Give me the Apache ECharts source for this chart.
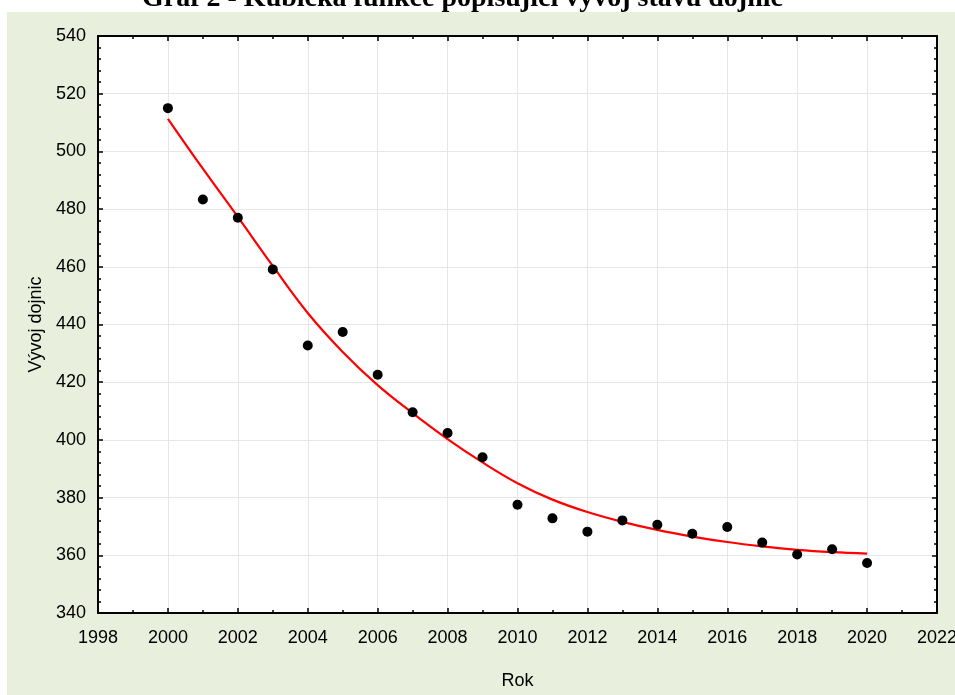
<!DOCTYPE html>
<html>
<head>
<meta charset="utf-8">
<script src="https://cdn.jsdelivr.net/npm/echarts@6/dist/echarts.min.js"></script>
<style>
  html, body { margin: 0; padding: 0; background: #fff; }
  #chart { width: 955px; height: 695px; }
</style>
</head>
<body>
<div id="chart"></div>
<script>
  // roky a hodnoty
  const years = [2000, 2001, 2002, 2003, 2004, 2005, 2006, 2007, 2008, 2009, 2010,
                 2011, 2012, 2013, 2014, 2015, 2016, 2017, 2018, 2019, 2020];
  const cows = [515.0, 483.3, 477.0, 459.1, 432.7, 437.4, 422.6, 409.6, 402.4, 394.0, 377.5,
                372.8, 368.2, 372.1, 370.6, 367.5, 369.8, 364.4, 360.3, 362.1, 357.3];
  const cubicFit = [511.3, 494.0, 477.3, 460.3, 444.0, 430.5, 419.0, 409.3, 400.3, 392.2, 385.0,
                    379.3, 375.0, 371.6, 368.8, 366.5, 364.6, 363.1, 361.9, 361.1, 360.6];

  const chart = echarts.init(document.getElementById("chart"));

  const font = "'Liberation Sans', Arial, sans-serif";
  const tickStyle = { color: "#000", width: 1.5 };

  const boxAxis = {
    axisLine: { show: true, onZero: false, lineStyle: { color: "#000", width: 2 } },
    axisTick: { show: true, inside: true, length: 5, lineStyle: tickStyle },
    axisLabel: { show: false },
    splitLine: { show: false },
  };

  chart.setOption({
    animation: false,
    backgroundColor: "#fff",
    graphic: [
      {
        type: "rect",
        z: -10,
        shape: { x: 7, y: 12, width: 948, height: 683 },
        style: { fill: "#E8EFDC" },
      },
    ],
    title: {
      text: "Graf 2 - Kubická funkce popisující vývoj stavu dojnic",
      left: 137,
      top: -20,
      textStyle: { fontFamily: "'Liberation Serif', 'Times New Roman', serif", fontWeight: "bold", fontSize: 28, color: "#000" },
    },
    grid: { left: 98, top: 36, right: 18, bottom: 82, outerBoundsMode: "none", containLabel: false,
            backgroundColor: "#fff", show: true, borderWidth: 0 },
    xAxis: [
      {
        type: "value",
        min: 1998,
        max: 2022,
        interval: 2,
        name: "Rok",
        nameLocation: "middle",
        nameGap: 59,
        nameTextStyle: { fontFamily: font, fontSize: 18, color: "#000" },
        axisLine: { show: true, onZero: false, lineStyle: { color: "#000", width: 2 } },
        axisTick: { show: true, inside: true, length: 5, lineStyle: tickStyle },
        minorTick: { show: true, splitNumber: 2, length: 3, lineStyle: tickStyle },
        axisLabel: { fontFamily: font, fontSize: 18, color: "#000", margin: 16, formatter: (v) => String(v) },
        splitLine: { show: true, lineStyle: { color: "#e6e6e6", width: 1 } },
      },
      Object.assign({}, boxAxis, {
        type: "value", position: "top", min: 1998, max: 2022, interval: 2,
        minorTick: { show: true, splitNumber: 2, length: 3, lineStyle: tickStyle },
      }),
    ],
    yAxis: [
      {
        type: "value",
        min: 340,
        max: 540,
        interval: 20,
        name: "Vývoj dojnic",
        nameLocation: "middle",
        nameGap: 53,
        nameTextStyle: { fontFamily: font, fontSize: 18, color: "#000" },
        axisLine: { show: true, onZero: false, lineStyle: { color: "#000", width: 2 } },
        axisTick: { show: true, inside: true, length: 5, lineStyle: tickStyle },
        minorTick: { show: true, splitNumber: 5, length: 3, lineStyle: tickStyle },
        axisLabel: { fontFamily: font, fontSize: 18, color: "#000", margin: 12 },
        splitLine: { show: true, lineStyle: { color: "#e6e6e6", width: 1 } },
      },
      Object.assign({}, boxAxis, {
        type: "value", position: "right", min: 340, max: 540, interval: 20,
        minorTick: { show: true, splitNumber: 5, length: 3, lineStyle: tickStyle },
      }),
    ],
    series: [
      {
        type: "line",
        data: years.map((y, i) => [y, cubicFit[i]]),
        smooth: 0.4,
        showSymbol: false,
        lineStyle: { color: "#ff0000", width: 2.2 },
        z: 2,
      },
      {
        type: "scatter",
        data: years.map((y, i) => [y, cows[i]]),
        symbolSize: 10,
        itemStyle: { color: "#000", opacity: 1 },
        z: 3,
      },
    ],
  });
</script>
</body>
</html>
